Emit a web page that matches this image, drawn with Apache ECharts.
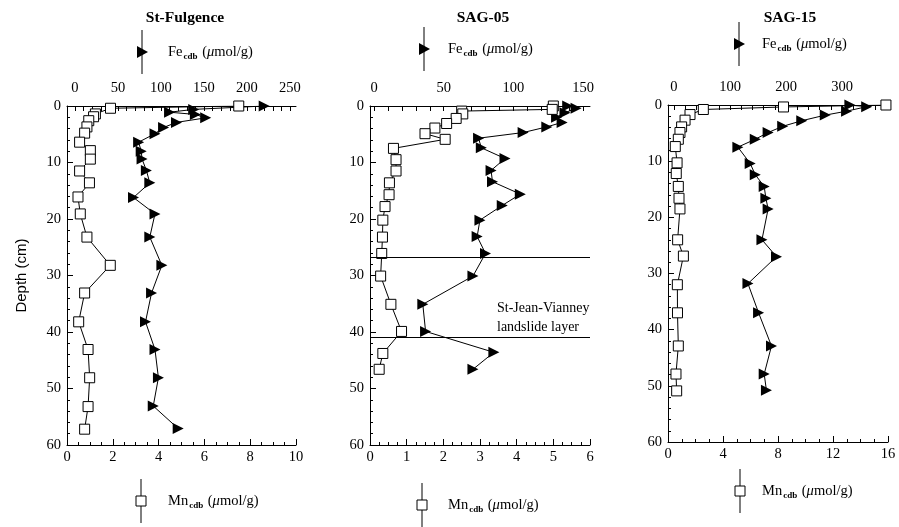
<!DOCTYPE html>
<html>
<head>
<meta charset="utf-8">
<script src="https://cdn.jsdelivr.net/npm/echarts@6/dist/echarts.min.js"></script>
<style>html,body{margin:0;padding:0;background:#fff}#c{width:899px;height:527px}</style>
</head>
<body>
<div id="c"></div>
<script>
// ---- data ----
const titles = ['St-Fulgence', 'SAG-05', 'SAG-15'];

// St-Fulgence
const mn1Depth = [0, 0.4, 1.4, 1.9, 2.6, 3.7, 4.8, 6.4, 7.9, 9.4, 11.5, 13.6, 16.1, 19.1, 23.2, 28.2, 33.1, 38.2, 43.1, 48.1, 53.2, 57.2];
const mn1 = [7.5, 1.9, 1.24, 1.16, 0.95, 0.87, 0.77, 0.55, 1.02, 1.02, 0.55, 0.98, 0.48, 0.58, 0.87, 1.89, 0.77, 0.51, 0.92, 0.99, 0.92, 0.77];
const fe1Depth = [0, 0.6, 1.1, 1.5, 2.1, 2.9, 3.8, 4.9, 6.4, 8.0, 9.4, 11.4, 13.6, 16.2, 19.1, 23.2, 28.2, 33.1, 38.2, 43.1, 48.1, 53.1, 57.1];
const fe1 = [220, 138, 110, 140, 152, 118, 103, 93, 74, 77, 78, 83, 87, 68, 93, 87, 101, 89, 82, 93, 97, 91, 120];

// SAG-05
const mn2Depth = [0, 0.6, 0.9, 1.4, 2.2, 3.1, 3.9, 4.9, 5.9, 7.5, 9.5, 11.5, 13.6, 15.7, 17.8, 20.2, 23.2, 26.1, 30.1, 35.1, 39.9, 43.8, 46.6];
const mn2 = [5.0, 4.97, 2.5, 2.53, 2.35, 2.09, 1.77, 1.5, 2.05, 0.64, 0.71, 0.71, 0.53, 0.52, 0.41, 0.35, 0.34, 0.32, 0.29, 0.57, 0.86, 0.35, 0.25];
const fe2Depth = [0, 0.4, 1.2, 2.0, 2.9, 3.7, 4.7, 5.7, 7.4, 9.3, 11.4, 13.4, 15.6, 17.6, 20.2, 23.1, 26.1, 30.1, 35.1, 39.9, 43.6, 46.6];
const fe2 = [139, 145, 137, 131, 135, 124, 107, 75, 77, 94, 84, 85, 105, 92, 76, 74, 80, 71, 35, 37, 86, 71];
const landslideBounds = [26.8, 40.9];

// SAG-15
const mn3Depth = [0, 0.35, 0.8, 1.7, 2.7, 3.9, 4.9, 6.1, 7.4, 10.3, 12.2, 14.5, 16.6, 18.5, 24, 26.9, 32, 37, 42.9, 47.9, 50.9];
const mn3 = [15.85, 8.4, 2.57, 1.6, 1.24, 0.99, 0.87, 0.75, 0.53, 0.66, 0.6, 0.75, 0.8, 0.87, 0.7, 1.12, 0.68, 0.69, 0.75, 0.58, 0.63];
const fe3Depth = [0, 0.3, 1.1, 1.8, 2.8, 3.8, 4.9, 6.1, 7.5, 10.4, 12.4, 14.5, 16.6, 18.5, 24, 27, 31.8, 37, 42.9, 47.9, 50.8];
const fe3 = [314, 344, 308, 270, 228, 194, 168, 145, 114, 136, 145, 161, 164, 168, 157, 183, 132, 151, 174, 161, 165];

// axis ticks
const mnMax = [10, 6, 16];
const mnInterval = [2, 1, 4];
const feTicks1 = [0, 50, 100, 150, 200, 250];
const feTicks2 = [0, 50, 100, 150];
const feTicks3 = [0, 100, 200, 300];
const feMin = [-9.3, -2.9, -10.7];
const feMax = [257, 155, 382];
const feMinorStep = [10, 10, 20];

// ---- build ----
const serif = "'Liberation Serif', 'DejaVu Serif', serif";
const mnSets = [[mn1, mn1Depth], [mn2, mn2Depth], [mn3, mn3Depth]];
const feSets = [[fe1, fe1Depth], [fe2, fe2Depth], [fe3, fe3Depth]];
const feTicks = [feTicks1, feTicks2, feTicks3];
const zip = (a, b) => a.map((v, i) => [v, b[i]]);
const grids = [
  {left: 67, top: 106, width: 229, height: 339},
  {left: 370, top: 106, width: 220, height: 339},
  {left: 668, top: 105, width: 220, height: 337}
];
const axisLabelStyle = {color: '#000', fontFamily: serif, fontSize: 14.5};
const xAxes = [], yAxes = [], series = [];
for (let i = 0; i < 3; i++) {
  xAxes.push({
    gridIndex: i, type: 'value', position: 'bottom', min: 0, max: mnMax[i], interval: mnInterval[i],
    axisLine: {show: true, onZero: false, lineStyle: {color: '#000', width: 1}},
    axisTick: {show: true, inside: true, length: 6, lineStyle: {color: '#000'}},
    minorTick: {show: true, splitNumber: 4, length: 3, lineStyle: {color: '#000'}},
    splitLine: {show: false},
    axisLabel: Object.assign({margin: 5}, axisLabelStyle)
  });
  const minor = [];
  for (let v = 0; v <= feMax[i]; v += feMinorStep[i]) minor.push(v);
  xAxes.push({
    gridIndex: i, type: 'value', position: 'top', min: feMin[i], max: feMax[i],
    axisLine: {show: true, onZero: false, lineStyle: {color: '#000', width: 1}},
    axisTick: {show: true, inside: true, length: 5, customValues: minor, lineStyle: {color: '#000'}},
    splitLine: {show: false},
    axisLabel: Object.assign({margin: 10, customValues: feTicks[i]}, axisLabelStyle)
  });
  yAxes.push({
    gridIndex: i, type: 'value', inverse: true, min: 0, max: 60, interval: 10,
    axisLine: {show: true, onZero: false, lineStyle: {color: '#000', width: 1}},
    axisTick: {show: true, inside: true, length: 6, lineStyle: {color: '#000'}},
    minorTick: {show: true, splitNumber: 5, length: 3, lineStyle: {color: '#000'}},
    splitLine: {show: false},
    axisLabel: Object.assign({margin: 6}, axisLabelStyle),
    name: i === 0 ? 'Depth (cm)' : '',
    nameLocation: 'middle', nameGap: 38, nameRotate: 90,
    nameTextStyle: {color: '#000', fontFamily: "'Liberation Sans', Arial, sans-serif", fontSize: 15}
  });
  series.push({
    type: 'line', xAxisIndex: 2 * i, yAxisIndex: i, data: zip(mnSets[i][0], mnSets[i][1]),
    symbol: 'rect', symbolSize: 10, showAllSymbol: true,
    itemStyle: {color: '#fff', borderColor: '#000', borderWidth: 1},
    lineStyle: {color: '#000', width: 1}, z: 4, animation: false
  });
  const fe = {
    type: 'line', xAxisIndex: 2 * i + 1, yAxisIndex: i, data: zip(feSets[i][0], feSets[i][1]),
    symbol: 'triangle', symbolRotate: -90, symbolSize: 11, showAllSymbol: true,
    itemStyle: {color: '#000'}, lineStyle: {color: '#000', width: 1}, z: 3, animation: false
  };
  if (i === 1) {
    fe.markLine = {
      silent: true, symbol: 'none', animation: false,
      lineStyle: {color: '#000', type: 'solid', width: 1},
      label: {show: false},
      data: landslideBounds.map(v => ({yAxis: v}))
    };
  }
  series.push(fe);
}

function legend(cx, cy, kind, tx) {
  const children = [
    {type: 'line', shape: {x1: cx, y1: cy - 22, x2: cx, y2: cy + 22}, style: {stroke: '#000', lineWidth: 1}}
  ];
  if (kind === 'fe') {
    children.push({type: 'polygon', shape: {points: [[cx - 5, cy - 6], [cx - 5, cy + 6], [cx + 6, cy]]}, style: {fill: '#000'}});
  } else {
    children.push({type: 'rect', shape: {x: cx - 5, y: cy - 5, width: 10, height: 10}, style: {fill: '#fff', stroke: '#000', lineWidth: 1}});
  }
  const el = kind === 'fe' ? 'Fe' : 'Mn';
  children.push({
    type: 'text', x: tx, y: cy,
    style: {
      text: '{a|' + el + '}{s|cdb}{a| (}{i|\u03bc}{a|mol/g)}',
      verticalAlign: 'middle', align: 'left',
      rich: {
        a: {fontFamily: serif, fontSize: 14.5, fill: '#000', color: '#000'},
        s: {fontFamily: serif, fontSize: 9, fontWeight: 'bold', fill: '#000', color: '#000', padding: [10, 1, 0, 1]},
        i: {fontFamily: serif, fontSize: 14.5, fontStyle: 'italic', fill: '#000', color: '#000'}
      }
    }
  });
  return {type: 'group', children: children};
}

const titleX = [185, 483, 790];
const graphic = [];
titles.forEach((t, i) => graphic.push({
  type: 'text', x: titleX[i], y: 18,
  style: {text: t, fontFamily: serif, fontWeight: 'bold', fontSize: 15.5, fill: '#000', align: 'center', verticalAlign: 'middle'}
}));
graphic.push(legend(142, 52, 'fe', 168));
graphic.push(legend(424, 49, 'fe', 448));
graphic.push(legend(739, 44, 'fe', 762));
graphic.push(legend(141, 501, 'mn', 168));
graphic.push(legend(422, 505, 'mn', 448));
graphic.push(legend(740, 491, 'mn', 762));
graphic.push({
  type: 'text', x: 497, y: 318,
  style: {text: 'St-Jean-Vianney\nlandslide layer', fontFamily: serif, fontSize: 14, lineHeight: 19, fill: '#000', align: 'left', verticalAlign: 'middle'}
});

const chart = echarts.init(document.getElementById('c'), null, {renderer: 'canvas'});
chart.setOption({
  animation: false,
  backgroundColor: '#fff',
  grid: grids,
  xAxis: xAxes,
  yAxis: yAxes,
  series: series,
  graphic: graphic
});
</script>
</body>
</html>
